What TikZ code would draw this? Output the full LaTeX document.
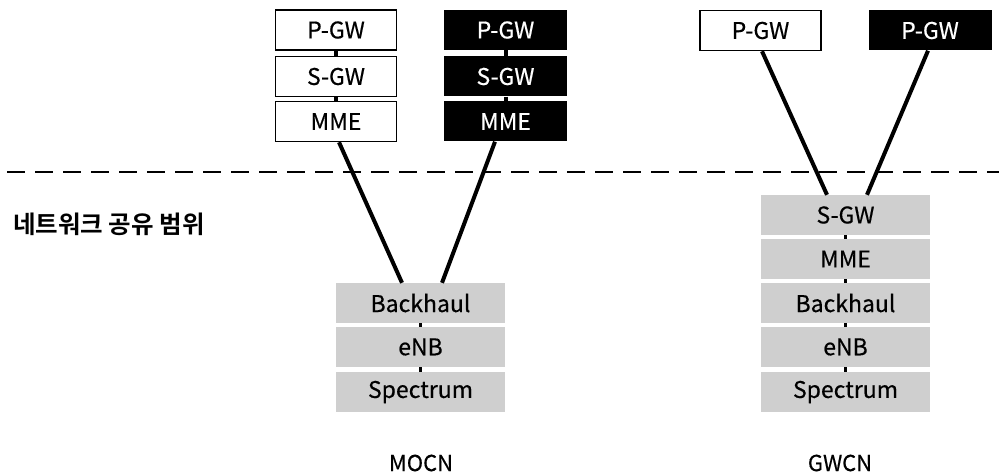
\documentclass[tikz,border=0pt]{standalone}
\usepackage{fontspec}
\setmainfont{Noto Sans CJK KR}[FakeBold=0.4]
\newfontfamily\labelfont{Noto Sans CJK KR}[BoldFont={Noto Sans CJK KR Bold}]
\usetikzlibrary{calc}
\definecolor{boxgray}{RGB}{207,207,207}
\tikzset{
  unit/.style={minimum height=40pt, inner sep=0pt, font=\fontsize{23}{25}\selectfont},
  whitebox/.style={unit, draw=black, line width=1.5pt, fill=white, minimum width=121pt},
  blackbox/.style={unit, fill=black, text=white, minimum width=123pt},
  graybox/.style={unit, fill=boxgray, minimum width=169pt},
  link/.style={line width=4pt, black},
  stub/.style={line width=4pt, black},
  dot/.style={line width=3pt, black},
  caption/.style={font=\fontsize{22}{24}\selectfont}
}
\begin{document}
\begin{tikzpicture}[x=1pt,y=-1pt]
\useasboundingbox (0,0) rectangle (999,476);

% MOCN: core stacks of both operators
\node[whitebox] (wp) at (336,30) {P-GW};
\node[whitebox] (ws) at (336,76.5) {S-GW};
\node[whitebox] (wm) at (336,121.5) {MME};
\node[blackbox] (bp) at (505.5,30) {P-GW};
\node[blackbox] (bs) at (505.5,76.5) {S-GW};
\node[blackbox] (bm) at (505.5,121.5) {MME};
\draw[stub] (wp.south) -- (ws.north);
\draw[stub] (ws.south) -- (wm.north);
\draw[stub] (bp.south) -- (bs.north);
\draw[stub] (bs.south) -- (bm.north);

% MOCN: shared access stack
\node[graybox] (mb) at (420.5,303) {Backhaul};
\node[graybox] (me) at (420.5,347) {eNB};
\node[graybox] (msp) at (420.5,392) {Spectrum};
\draw[dot] (mb.south) -- (me.north);
\draw[dot] (me.south) -- (msp.north);

% GWCN: operator gateways
\node[whitebox] (gwp) at (760.5,30.5) {P-GW};
\node[blackbox] (gbp) at (930,30.5) {P-GW};

% GWCN: shared stack
\node[graybox] (gs) at (845.5,215) {S-GW};
\node[graybox] (gm) at (845.5,259) {MME};
\node[graybox] (gb) at (845.5,303) {Backhaul};
\node[graybox] (ge) at (845.5,347) {eNB};
\node[graybox] (gsp) at (845.5,392) {Spectrum};
\draw[dot] (gs.south) -- (gm.north);
\draw[dot] (gm.south) -- (gb.north);
\draw[dot] (gb.south) -- (ge.north);
\draw[dot] (ge.south) -- (gsp.north);

% links from the operator cores to the shared part
\draw[link] ($(wm.south)+(3,0)$) -- ($(mb.north)+(-18.5,0)$);
\draw[link] ($(bm.south)+(-10.5,0)$) -- ($(mb.north)+(21.5,0)$);
\draw[link] ($(gwp.south)+(1.5,0)$) -- ($(gs.north)+(-18.5,0)$);
\draw[link] ($(gbp.south)+(-2,0)$) -- ($(gs.north)+(21.5,0)$);

% boundary of the shared network
\coordinate (dl) at (7,172);
\coordinate (dr) at (999,172);
\draw[line width=2pt, dash pattern=on 18pt off 10pt] (dl) -- (dr);
\node[anchor=west, font=\labelfont\fontsize{24.5}{26}\selectfont\bfseries, inner sep=0pt] (scope) at (13,224) {네트워크 공유 범위};

% captions
\node[caption] (mocn) at (421,463) {MOCN};
\node[caption] (gwcn) at (840,463) {GWCN};
\end{tikzpicture}
\end{document}
